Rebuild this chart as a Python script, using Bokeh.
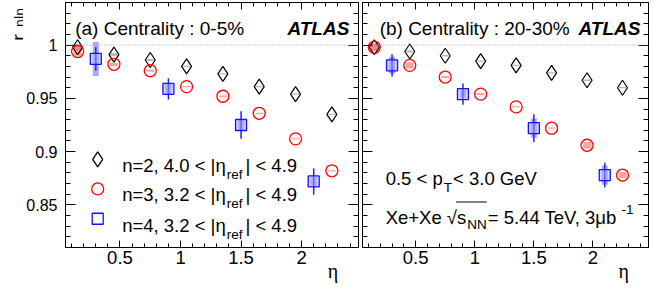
import numpy as np
from bokeh.plotting import figure
from bokeh.layouts import row
from bokeh.models import (Label, Span, LinearAxis, FixedTicker, PrintfTickFormatter,
                          Range1d, BoxAnnotation)
from bokeh.embed import file_html
from bokeh.resources import INLINE

# ---------------- data ----------------
eta8 = [0.15, 0.45, 0.75, 1.05, 1.35, 1.65, 1.95, 2.25]
eta4 = [0.3, 0.9, 1.5, 2.1]

# (a) centrality 0-5%
a_r2 = [0.998, 0.991, 0.986, 0.980, 0.973, 0.961, 0.954, 0.935]
a_r2_sys = [0.003, 0.0015, 0.001, 0.0006, 0.0006, 0.0006, 0.0006, 0.0006]
a_r3 = [0.994, 0.982, 0.976, 0.961, 0.952, 0.936, 0.912, 0.882]
a_r3_sys = [0.004, 0.0015, 0.001, 0.0006, 0.0006, 0.0006, 0.0006, 0.0006]
a_r4 = [0.987, 0.959, 0.925, 0.872]
a_r4_stat = [0.011, 0.010, 0.013, 0.0125]
a_r4_sys = [0.016, 0.005, 0.004, 0.004]

# (b) centrality 20-30%
b_r2 = [0.998, 0.994, 0.990, 0.985, 0.981, 0.974, 0.967, 0.960]
b_r2_sys = [0.003, 0.001, 0.0006, 0.0006, 0.0006, 0.0006, 0.0006, 0.0006]
b_r3 = [0.998, 0.981, 0.970, 0.954, 0.942, 0.922, 0.906, 0.878]
b_r3_sys = [0.004, 0.003, 0.001, 0.001, 0.0006, 0.0006, 0.003, 0.003]
b_r4 = [0.981, 0.954, 0.922, 0.878]
b_r4_stat = [0.0105, 0.010, 0.013, 0.0115]
b_r4_sys = [0.008, 0.004, 0.009, 0.009]

x_ticks = [0.5, 1.0, 1.5, 2.0]
y_ticks = [0.85, 0.9, 0.95, 1.0]
eta_title_pos = [2.26]
X_RANGE = (0.05, 2.47)
Y_RANGE = (0.81, 1.04)

# ---------------- layout constants ----------------
FONT = "Liberation Sans"
FS = "18.5px"
SUB = "13.5px"
BT, FH, BB = 2, 245, 41      # top border, frame height, bottom border
STRIP_W = 23                 # strip holding the y title
FW1, FW2 = 293, 286          # frame widths of the two panels

ARIAL = {' ': 278, '%': 889, '(': 333, ')': 333, '+': 584, ',': 278, '-': 333, '.': 278,
         ':': 278, '<': 584, '=': 584, 'A': 667, 'C': 722, 'G': 778, 'L': 556, 'N': 722,
         'S': 667, 'T': 611, 'V': 667, 'X': 667, 'a': 556, 'b': 556, 'e': 556, 'f': 278,
         'i': 222, 'l': 222, 'n': 556, 'p': 556, 'r': 333, 's': 500, 't': 278, 'y': 500,
         '|': 260, 'η': 556, 'μ': 576, '√': 549}


def tw(s, px):
    return sum(ARIAL.get(c, 556) for c in s) / 1000.0 * px


def label(p, x, y, text, size="19px", align="left", font=FONT, style="normal",
          xo=0, yo=0, angle=0):
    p.add_layout(Label(x=x, y=y, text=text, text_font=font,
                       text_font_size=size, text_font_style=style, text_align=align,
                       text_baseline="alphabetic", x_offset=xo, y_offset=yo,
                       angle=angle, text_color="black"))


def style_axis(ax, ticks, minor, show_labels, major_len, minor_len, standoff, fs=FS):
    ax.ticker = FixedTicker(ticks=ticks, minor_ticks=minor)
    ax.formatter = PrintfTickFormatter(format="%g")
    ax.major_tick_in = major_len
    ax.major_tick_out = 0
    ax.minor_tick_in = minor_len
    ax.minor_tick_out = 0
    ax.axis_line_color = "black"
    ax.major_tick_line_color = "black"
    ax.minor_tick_line_color = "black"
    if show_labels:
        ax.major_label_text_font = FONT
        ax.major_label_text_font_size = fs
        ax.major_label_text_color = "black"
        ax.major_label_standoff = standoff
    else:
        ax.major_label_text_font_size = "1px"
        ax.major_label_text_color = None
        ax.major_label_standoff = 0


def plain(f):
    f.title.visible = False
    f.xgrid.visible = False
    f.ygrid.visible = False
    return f


xminor = [round(v, 2) for v in np.arange(0.1, 2.45, 0.1)]
yminor = [round(v, 2) for v in np.arange(0.81, 1.041, 0.01)]


def make_panel(r2, r2s, r3, r3s, r4, r4e, r4s, first, fw, bl):
    p = plain(figure(x_range=Range1d(*X_RANGE), y_range=Range1d(*Y_RANGE),
                     frame_width=fw, frame_height=FH, min_border_left=bl,
                     min_border_right=2, min_border_top=BT, min_border_bottom=BB,
                     output_backend="svg", toolbar_location=None,
                     background_fill_color="white", border_fill_color="white"))
    p.outline_line_color = "black"
    p.outline_line_width = 1

    style_axis(p.xaxis[0], x_ticks, xminor, True, 7, 4, 3)
    style_axis(p.yaxis[0], y_ticks, yminor, first, 10, 5, 8, fs="16px")
    top = LinearAxis()
    style_axis(top, x_ticks, xminor, False, 7, 4, 0)
    p.add_layout(top, "above")
    right = LinearAxis()
    style_axis(right, y_ticks, yminor, False, 10, 5, 0)
    p.add_layout(right, "right")

    # eta axis title: a bare axis below the tick labels, placed near the axis end
    eta_ax = LinearAxis(ticker=FixedTicker(ticks=eta_title_pos, minor_ticks=[]),
                        formatter=PrintfTickFormatter(format="η"))
    eta_ax.axis_line_color = None
    eta_ax.major_tick_line_color = None
    eta_ax.minor_tick_line_color = None
    eta_ax.major_tick_in = 0
    eta_ax.major_tick_out = 0
    eta_ax.minor_tick_in = 0
    eta_ax.minor_tick_out = 0
    eta_ax.major_label_standoff = -7
    eta_ax.major_label_text_font = "Liberation Serif"
    eta_ax.major_label_text_font_size = "20px"
    eta_ax.major_label_text_color = "black"
    p.add_layout(eta_ax, "below")

    p.add_layout(Span(location=1.0, dimension="width", line_color="#999999",
                      line_dash="1 2", line_width=1))

    # systematic boxes
    p.rect(x=eta8, y=r2, width=7, height=[2 * s for s in r2s], width_units="screen",
           fill_color="#888888", fill_alpha=0.6, line_color=None)
    p.rect(x=eta8, y=r3, width=8, height=[2 * s for s in r3s], width_units="screen",
           fill_color="#ff6666", fill_alpha=0.6, line_color=None)
    p.rect(x=eta4, y=r4, width=6, height=[2 * s for s in r4s], width_units="screen",
           fill_color="#5555ff", fill_alpha=0.5, line_color=None)
    # statistical errors
    p.segment(x0=eta4, x1=eta4, y0=[a - b for a, b in zip(r4, r4e)],
              y1=[a + b for a, b in zip(r4, r4e)], line_color="#2222ff", line_width=1.5)
    # markers
    p.scatter(eta8, r2, marker="diamond", size=15, fill_color=None,
              line_color="black", line_width=1.2)
    p.scatter(eta8, r3, marker="circle", size=12, fill_color=None,
              line_color="#ff0000", line_width=1.3)
    p.scatter(eta4, r4, marker="square", size=11, fill_color="#aaaaff", fill_alpha=0.5,
              line_color="#1111ff", line_width=1.3)
    return p


p1 = make_panel(a_r2, a_r2_sys, a_r3, a_r3_sys, a_r4, a_r4_stat, a_r4_sys, True, FW1, 40)
p2 = make_panel(b_r2, b_r2_sys, b_r3, b_r3_sys, b_r4, b_r4_stat, b_r4_sys, False, FW2, 2)

# ---- y-axis title strip (r_{n|n}), frame aligned with the panels ----
ys = plain(figure(x_range=Range1d(0, STRIP_W), y_range=Range1d(*Y_RANGE),
                  frame_width=STRIP_W, frame_height=FH, min_border_left=0,
                  min_border_right=0, min_border_top=BT, min_border_bottom=BB,
                  output_backend="svg", toolbar_location=None,
                  x_axis_location=None, y_axis_location=None,
                  background_fill_color="white", border_fill_color="white"))
ys.outline_line_color = None
label(ys, 18.2, 1.0042, "r", size="19.5px", angle=np.pi / 2)
label(ys, 19.5, 1.0169, "n|n", size="14px", angle=np.pi / 2)

# ---- panel (a) texts ----
label(p1, 0.130, 1.0153, "(a) Centrality : 0-5%")
label(p1, 2.394, 1.016, "ATLAS", style="bold italic", align="right")

leg_x = 0.316
leg_tx = 0.518
leg = [("diamond", 15, "black", "n=2, 4.0 < |η", "4.9", 0.8927, 0.8870),
       ("circle", 12, "#ff0000", "n=3, 3.2 < |η", "4.9", 0.8650, 0.8597),
       ("square", 11, "#1111ff", "n=4, 3.2 < |η", "4.9", 0.8370, 0.8311)]
for mk, sz, col, t1, t3, my, ty in leg:
    p1.scatter([leg_x], [my], marker=mk, size=sz, fill_color=None, line_color=col,
               line_width=1.3)
    w1 = tw(t1, 18.5)
    label(p1, leg_tx, ty, t1, size="18.5px")
    label(p1, leg_tx, ty, "ref", size=SUB, xo=w1 + 1, yo=-9)
    label(p1, leg_tx, ty, "| < " + t3, size="18.5px", xo=w1 + 1 + tw("ref", 13.5) + 3)

# ---- panel (b) texts ----
label(p2, 0.195, 1.0153, "(b) Centrality : 20-30%")
label(p2, 2.402, 1.016, "ATLAS", style="bold italic", align="right")

bx = 0.246
t = "0.5 < p"
w = tw(t, 18.5)
label(p2, bx, 0.8746, t, size="18.5px")
label(p2, bx, 0.8746, "T", size=SUB, xo=w + 1, yo=-9)
label(p2, bx, 0.8746, " < 3.0 GeV", size="18.5px", xo=w + 1 + tw("T", 13.5) + 1)

t = "Xe+Xe √s"
w = tw(t, 18.5)
yb = 0.8386
label(p2, bx, yb, t, size="18.5px")
label(p2, bx, yb, "NN", size=SUB, xo=w + 1, yo=-7)
w2 = w + 1 + tw("NN", 13.5) + 1
t3 = " = 5.44 TeV, 3μb"
label(p2, bx, yb, t3, size="18.5px", xo=w2)
label(p2, bx, yb, "-1", size=SUB, xo=w2 + tw(t3, 18.5) - 4, yo=8)
# radical overline
fx0 = (bx - X_RANGE[0]) / (X_RANGE[1] - X_RANGE[0]) * FW2
fyb = (yb - Y_RANGE[0]) / (Y_RANGE[1] - Y_RANGE[0]) * FH
p2.add_layout(BoxAnnotation(left=fx0 + tw("Xe+Xe √", 18.5) - 1, right=fx0 + w2 - 1,
                            bottom=fyb + 14.5, top=fyb + 15.5,
                            left_units="screen", right_units="screen",
                            bottom_units="screen", top_units="screen",
                            fill_color="black", fill_alpha=1, line_color=None))

layout = row(ys, p1, p2)
open("out.html", "w").write(file_html(layout, INLINE))
